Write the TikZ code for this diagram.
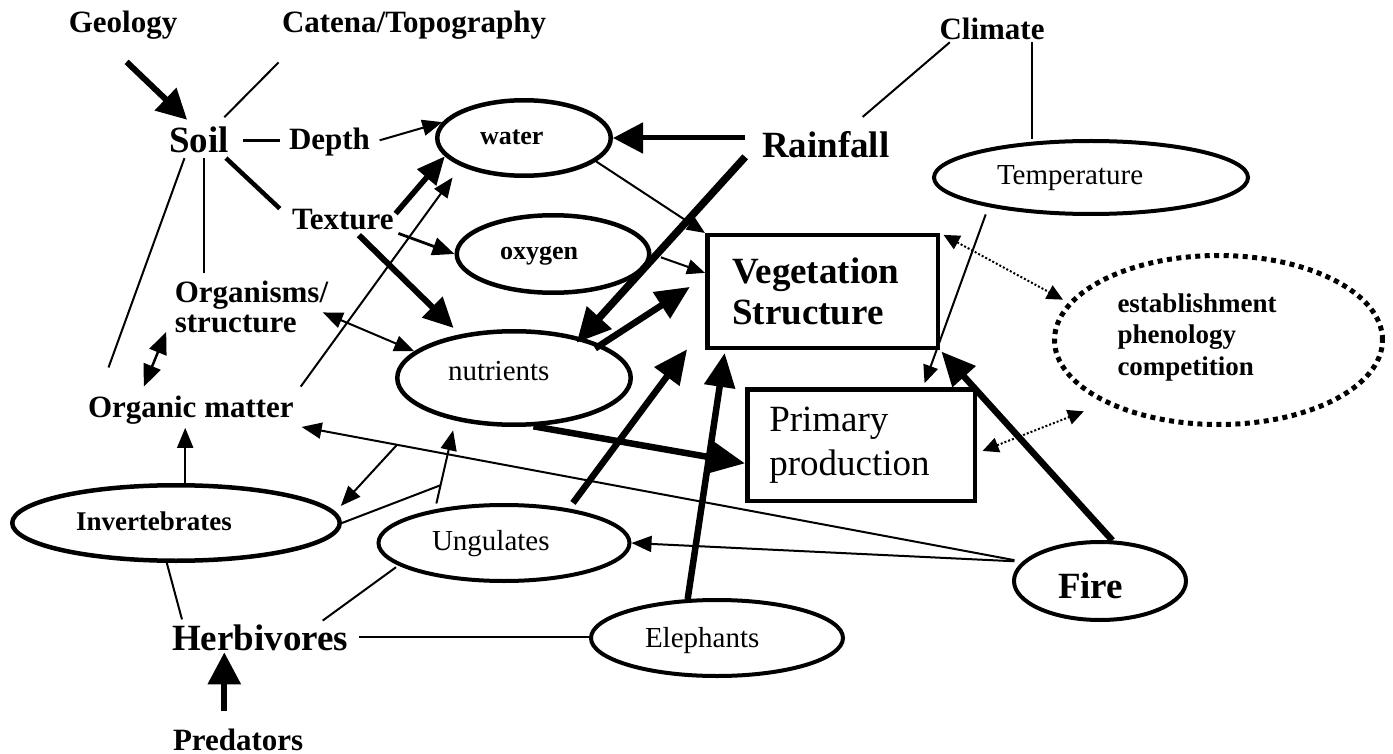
\documentclass[tikz,border=0pt]{standalone}
\usepackage{fontspec}
\setmainfont{Liberation Serif}
\usetikzlibrary{shapes.geometric,arrows.meta,calc}
\begin{document}
\begin{tikzpicture}[x=1pt,y=-1pt,
  tx/.style={inner sep=2pt, outer sep=0pt},
  bl/.style={tx, font=\fontsize{31}{30}\selectfont\bfseries},
  bL/.style={tx, font=\fontsize{37}{41}\selectfont\bfseries},
  ell/.style={draw, ellipse, line width=4.5pt, inner sep=0pt, outer sep=2.25pt},
  ellt/.style={draw, ellipse, line width=4pt, inner sep=0pt, outer sep=2pt},
  sb/.style={tx, inner sep=0pt, anchor=base west, font=\fontsize{26}{28}\selectfont\bfseries},
  sr/.style={tx, inner sep=0pt, anchor=base west, font=\fontsize{29}{31}\selectfont},
  ln/.style={line width=2pt},
  tarr/.style={line width=2pt, -{Triangle[length=20pt,width=16pt]}},
  dtarr/.style={line width=2pt, {Triangle[length=20pt,width=16pt]}-{Triangle[length=20pt,width=16pt]}},
  dmarr/.style={line width=2.5pt, {Triangle[length=22pt,width=18pt]}-{Triangle[length=22pt,width=18pt]}},
  marr/.style={line width=2.8pt, -{Triangle[length=22pt,width=18pt]}},
  sarr/.style={line width=2pt, -{Triangle[length=18pt,width=15pt]}},
  geoarr/.style={line width=6pt, -{Triangle[length=30pt,width=30pt]}},
  texw/.style={line width=5.5pt, -{Triangle[length=28pt,width=24pt]}},
  texn/.style={line width=6pt, -{Triangle[length=30pt,width=28pt]}},
  rainw/.style={line width=5pt, -{Triangle[length=30pt,width=30pt]}},
  rainn/.style={line width=7.5pt, -{Triangle[length=34pt,width=32pt]}},
  varr/.style={line width=6.5pt, -{Triangle[length=34pt,width=30pt]}},
  predarr/.style={line width=6pt, -{Triangle[length=32pt,width=32pt]}},
  dotarr/.style={line width=2pt, dash pattern=on 2pt off 2pt, {Triangle[length=16pt,width=15pt]}-{Triangle[length=16pt,width=15pt]}}
]
\fill[white] (0,0) rectangle (1393,754);
\useasboundingbox (0,0) rectangle (1393,754);

% text labels
\node[bl, anchor=base] (geo) at (123,33) {Geology};
\node[bl, anchor=base west] (cat) at (280,33) {Catena/Topography};
\node[bl, anchor=base] (cli) at (992,40) {Climate};
\node[bL, anchor=base] (soil) at (199,153) {Soil};
\node[bl, anchor=base west] (depth) at (287,150) {Depth};
\node[bl, anchor=base west] (tex) at (290,230) {Texture};
\node[bl, align=left] (org) at (251.5,307.3) {Organisms/\\structure};
\node[bl, anchor=base west] (om) at (86,417) {Organic matter};
\node[bL, anchor=base west] (herb) at (170,650) {Herbivores};
\node[bl, anchor=base west] (pred) at (171,750) {Predators};
\node[bL, anchor=base west] (rain) at (760,158) {Rainfall};

% ellipses
\node[ell, minimum width=173.5pt, minimum height=75.5pt] (water) at (524,138) {};
\node[sb] (waterT) at (480,145) {water};
\node[ell, minimum width=192.5pt, minimum height=77.5pt] (oxy) at (553,254) {};
\node[sb] (oxyT) at (500,260) {oxygen};
\node[ell, minimum width=233.5pt, minimum height=93.5pt] (nut) at (514,378) {};
\node[sr] (nutT) at (448,380) {nutrients};
\node[ellt, minimum width=314pt, minimum height=73pt] (temp) at (1091,177.5) {};
\node[sr] (tempT) at (997,185) {Temperature};
\node[ell, minimum width=327.5pt, minimum height=75.5pt] (inv) at (176,523) {};
\node[sb, font=\fontsize{27}{29}\selectfont\bfseries] (invT) at (76,530) {Invertebrates};
\node[ellt, minimum width=251pt, minimum height=76pt] (ung) at (504,543) {};
\node[sr] (ungT) at (432,550) {Ungulates};
\node[ellt, minimum width=252pt, minimum height=76pt] (ele) at (717,638) {};
\node[sr] (eleT) at (645,647) {Elephants};
\node[ellt, minimum width=172pt, minimum height=78pt] (fire) at (1100,581) {};
\node[sb, font=\fontsize{37}{41}\selectfont\bfseries] (fireT) at (1058,598) {Fire};
\node[draw, ellipse, line width=5pt, dash pattern=on 5pt off 4.5pt, minimum width=328pt, minimum height=169pt, inner sep=0pt, outer sep=2.5pt] (est) at (1218.5,340) {};
\node[tx, inner sep=0pt, align=left, font=\fontsize{27}{31.5}\selectfont\bfseries] (estT) at (1197,337.3) {establishment\\phenology\\competition};

% boxes
\node[draw, line width=4.5pt, outer sep=2.25pt, inner xsep=25pt, inner ysep=0pt, text width=180.5pt, minimum height=112.5pt, align=left, font=\fontsize{37}{41}\selectfont\bfseries] (veg) at (822.5,291.5) {Vegetation\\Structure};
\node[draw, line width=4.5pt, outer sep=2.25pt, inner xsep=22pt, inner ysep=0pt, text width=183.5pt, minimum height=111.5pt, align=left, font=\fontsize{37}{44}\selectfont] (pp) at (861,445) {Primary\\production};

% connectors
\draw[geoarr, shorten <=29pt, shorten >=8pt] (geo.223) -- (soil.112);
\draw[ln, shorten <=29pt, shorten >=11.5pt] (cat.188) -- (soil.41);
\draw[line width=3.5pt, shorten <=12pt, shorten >=7pt] (soil.east) -- (soil.east -| depth.west);
\draw[tarr, shorten <=8pt] (depth.east) -- (water.169);
\draw[line width=4.5pt, shorten <=4pt, shorten >=14pt] (soil.-32) -- (tex.178);
\draw[ln, shorten <=3pt, shorten >=27.7pt] (soil.228) -- (om.170);
\draw[ln, shorten <=3pt, shorten >=6pt] (soil.-71) -- (soil.-71 |- org.north);
\draw[texw] (tex.7) -- (water.193);
\draw[tarr, shorten <=8.5pt, shorten >=14pt] (om.north east) -- (water.204);
\draw[marr, shorten <=3pt] (tex.south east) -- (oxy.west);
\draw[texn, shorten <=4pt, shorten >=9pt] (tex.-43) -- (nut.141);
\draw[dtarr, shorten <=-8pt] (org.-6) -- (nut.165);
\draw[dmarr, shorten <=17.6pt, shorten >=7.4pt] (org.186) -- (om.162);
\draw[tarr, shorten >=2pt] (inv.77) -- (inv.77 |- om.south);
\draw[tarr, shorten <=8pt, shorten >=6pt] (fire.166) -- coordinate[pos=0.8606] (br1) (om.south east);
\draw[tarr, shorten >=8pt] (br1) -- (inv.4);
\draw[tarr, shorten <=8pt] (fire.166) -- (ung.east);
\draw[tarr, shorten <=6pt, shorten >=10pt] (ung.154) -- coordinate[pos=0.272] (br2) (nut.216);
\draw[ln] (inv.east) -- (br2);
\draw[ln, shorten >=3pt] (inv.257) -- (herb.169);
\draw[ln, shorten <=3pt, shorten >=3pt] (ung.192) -- (herb.14);
\draw[ln, shorten <=9pt] (herb.east) -- (herb.east -| ele.west);
\draw[predarr, shorten <=15pt] (pred.137) -- (pred.137 |- herb.south);
\draw[rainw, shorten <=15pt] (water.east -| rain.west) -- (water.east);
\draw[rainn, shorten <=22pt, shorten >=-7pt] (rain.176) -- (nut.31);
\draw[sarr] (water.-18) -- (veg.north west);
\draw[sarr, shorten <=10pt] (oxy.east) -- (veg.171);
\draw[varr, shorten <=-7pt, shorten >=18pt] (nut.21) -- (veg.173);
\draw[varr] (nut.-68) -- (pp.189);
\draw[varr, shorten <=7pt, shorten >=30pt] (ung.28) -- (veg.196);
\draw[varr, shorten >=3pt] (ele.127) -- (veg.211);
\draw[varr, shorten >=2pt] (fire.73) -- (veg.south east);
\draw[sarr, shorten <=8pt, shorten >=4pt] (temp.196) -- (pp.43);
\draw[ln, shorten >=20pt] (cli.197) -- (rain.35);
\draw[ln] (cli.-18) -- (cli.-18 |- temp.north);
\draw[dotarr, shorten <=4pt, shorten >=6pt] (veg.north east) -- (est.166);
\draw[dotarr, shorten <=6pt, shorten >=22pt] (pp.-4) -- (est.209);
\end{tikzpicture}
\end{document}
